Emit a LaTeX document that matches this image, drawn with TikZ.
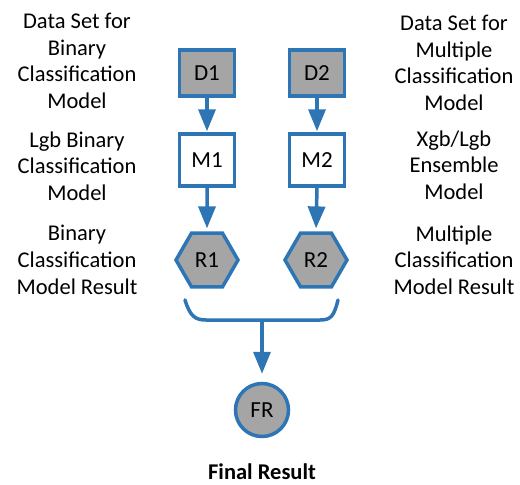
\documentclass[tikz,border=0pt]{standalone}
\usepackage{fontspec}
\setmainfont{Carlito}
\usetikzlibrary{arrows.meta,shapes.geometric}
\definecolor{flowblue}{HTML}{2E75B6}
\definecolor{flowgray}{HTML}{A5A5A5}
\begin{document}
\begin{tikzpicture}[x=1pt,y=-1pt,
  lbl/.style={align=center,font=\fontsize{22.5}{26.7}\selectfont,inner sep=0pt},
  shapetext/.style={font=\fontsize{23}{26}\selectfont},
  databox/.style={shapetext,draw=flowblue,line width=3.5pt,fill=flowgray,minimum width=55pt,minimum height=46pt},
  modelbox/.style={shapetext,draw=flowblue,line width=3.5pt,fill=white,minimum width=55pt,minimum height=52pt},
  resulthex/.style={shapetext,draw=flowblue,line width=3.5pt,fill=flowgray,regular polygon,regular polygon sides=6,minimum size=62pt,inner sep=0pt},
  finalcirc/.style={shapetext,draw=flowblue,line width=3.5pt,fill=flowgray,circle,minimum size=53pt,inner sep=0pt},
  flow/.style={draw=flowblue,line width=3.5pt,-{Triangle[width=17pt,length=22pt]}},
  brace/.style={draw=flowblue,line width=3.5pt}
]
\useasboundingbox (0,0) rectangle (520,485);

% side descriptions
\node[lbl] (t1) at (77,61) {Data Set for\\Binary\\Classification\\Model};
\node[lbl] (t2) at (77,166) {Lgb Binary\\Classification\\Model};
\node[lbl] (t3) at (77,260) {Binary\\Classification\\Model Result};
\node[lbl] (u1) at (454,63) {Data Set for\\Multiple\\Classification\\Model};
\node[lbl] (u2) at (454,165) {Xgb/Lgb\\Ensemble\\Model};
\node[lbl] (u3) at (454,260) {Multiple\\Classification\\Model Result};

% flow shapes
\node[databox] (D1) at (207,73) {D1};
\node[databox] (D2) at (317,73) {D2};
\node[modelbox] (M1) at (207,160) {M1};
\node[modelbox] (M2) at (317,160) {M2};
\node[resulthex] (R1) at (207,260) {R1};
\node[resulthex] (R2) at (316,260) {R2};
\node[finalcirc] (FR) at (262,410) {FR};
\node[font=\fontsize{22.5}{26}\selectfont\bfseries,inner sep=0pt] (fl) at (262,472) {Final Result};

% arrows
\draw[flow,shorten >=1pt] (D1.south) -- (M1.north);
\draw[flow,shorten >=1pt] (D2.south) -- (M2.north);
\draw[flow,shorten >=3pt] (M1.south) -- (R1.north);
\draw[flow,shorten >=3pt] (M2.south) -- (R2.north);

% merging bracket
\coordinate (bl) at (185,300);
\coordinate (br) at (338,300);
\coordinate (bm) at (262,320);
\draw[brace,line cap=round] (bl) .. controls (190,316) and (195,320) .. (206,320)
  -- (320,320) .. controls (331,320) and (334,316) .. (br);
\draw[flow,shorten >=8pt] (bm) -- (FR.north);
\end{tikzpicture}
\end{document}
